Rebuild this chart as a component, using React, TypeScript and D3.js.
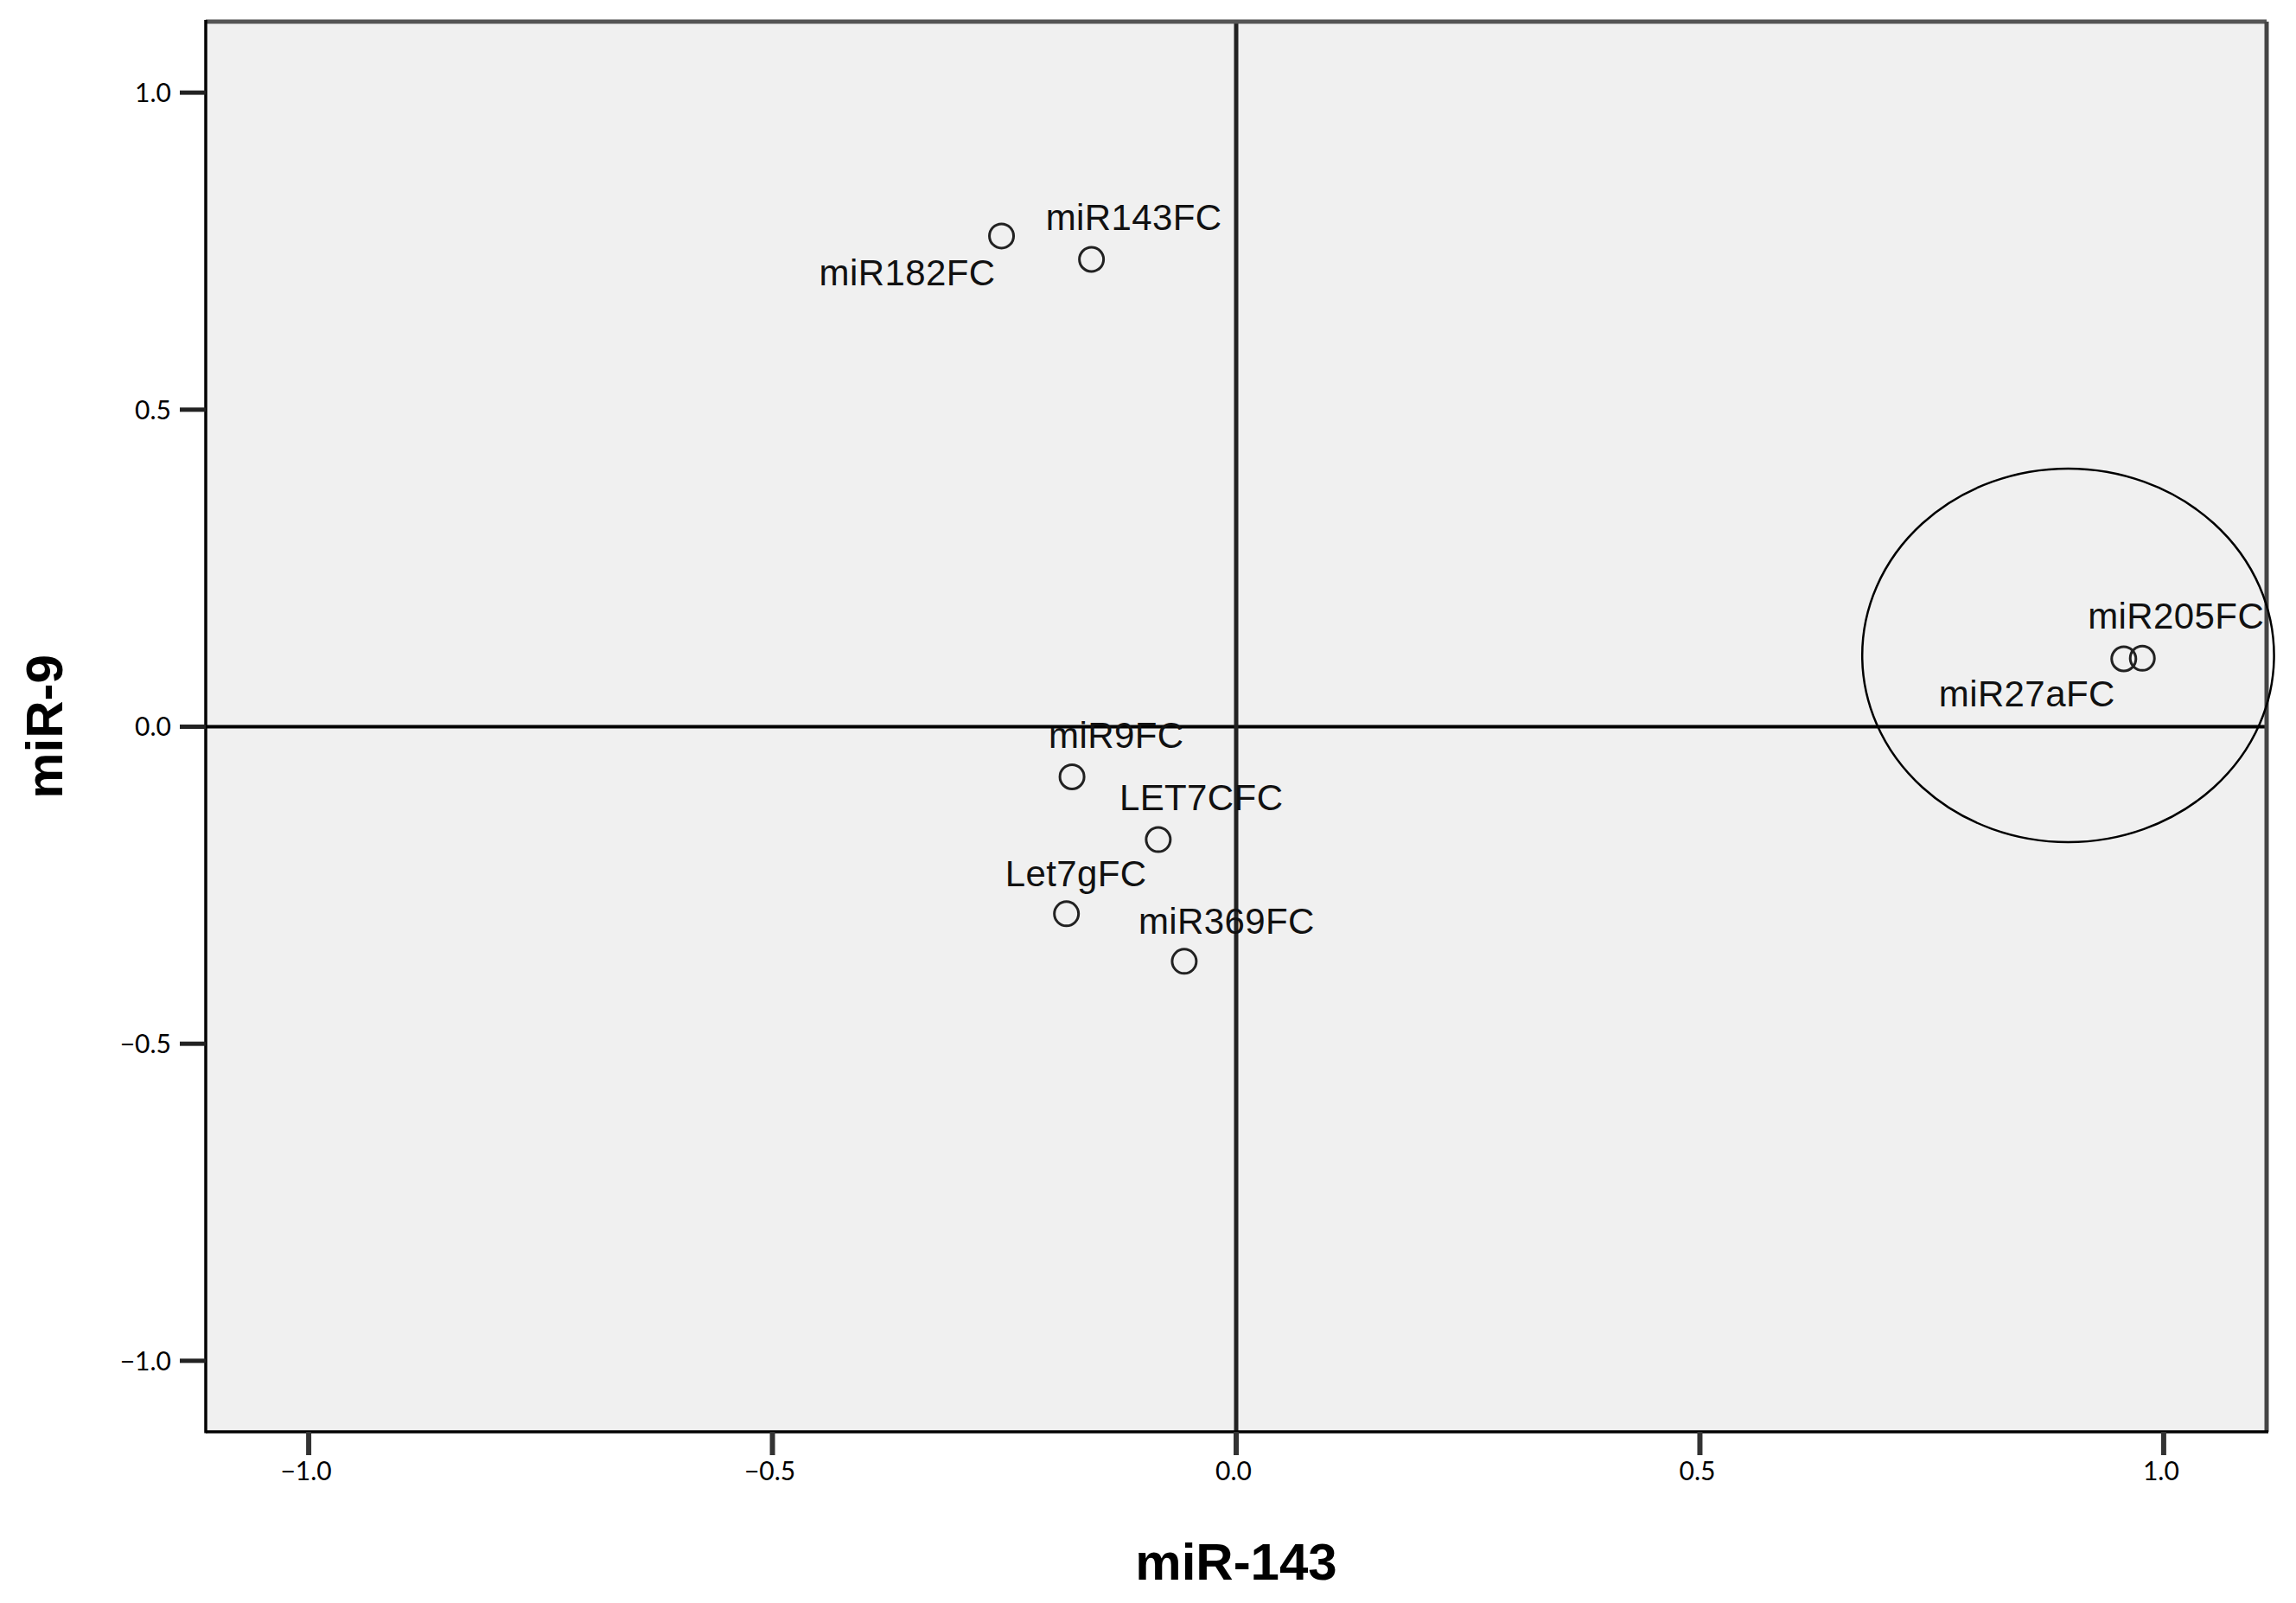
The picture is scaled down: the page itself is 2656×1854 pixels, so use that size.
import React from 'react';
import * as d3 from 'd3';

// component loadings
const genes = ['miR182FC', 'miR143FC', 'miR205FC', 'miR27aFC', 'miR9FC', 'LET7CFC', 'Let7gFC', 'miR369FC'];
const miR143 = [-0.253, -0.156, 0.977, 0.957, -0.177, -0.084, -0.183, -0.056];
const miR9 = [0.774, 0.737, 0.108, 0.107, -0.079, -0.178, -0.295, -0.37];

const xTicks = [-1, -0.5, 0, 0.5, 1];
const yTicks = [-1, -0.5, 0, 0.5, 1];

// circled group (centre and radii in data units)
const groupEllipse = { cx: 0.897, cy: 0.1125, rx: 0.222, ry: 0.2945 };

// where each label sits relative to its point (px)
const labelDx = [-211, -53, -63, -214, -27, -45, -71, -53];
const labelDy = [57, -34, -34, 55, -33, -34, -32, -32];

const W = 2656;
const H = 1854;
const left = 238, right = 2622, top = 25, bottom = 1656;

const fmt = (v: number) => (v < 0 ? '\u2212' : '') + Math.abs(v).toFixed(1);

export default function App() {
  const x = d3.scaleLinear().domain([-1.111, 1.111]).range([left, right]);
  const y = d3.scaleLinear().domain([-1.112, 1.112]).range([bottom, top]);

  const tickFont = 'Lato, "Open Sans", sans-serif';
  const labelFont = '"Liberation Sans", Arial, sans-serif';

  return (
    <svg width={W} height={H} style={{ position: 'absolute', left: 0, top: 0, display: 'block', background: '#fff' }}>
      <rect x={left} y={top} width={right - left} height={bottom - top} fill="#f0f0f0" />

      {/* zero reference lines */}
      <line x1={left} x2={right} y1={y(0)} y2={y(0)} stroke="#000" strokeWidth={4} />
      <line x1={x(0)} x2={x(0)} y1={top} y2={bottom} stroke="#222" strokeWidth={5} />

      {/* frame */}
      <line x1={left} x2={right} y1={top} y2={top} stroke="#555" strokeWidth={5} />
      <line x1={right} x2={right} y1={top} y2={bottom} stroke="#444" strokeWidth={5} />
      <line x1={left} x2={left} y1={top - 2} y2={bottom + 1.5} stroke="#000" strokeWidth={3.5} />
      <line x1={left} x2={right + 2} y1={bottom} y2={bottom} stroke="#000" strokeWidth={3.5} />

      {/* y axis */}
      {yTicks.map((t) => (
        <g key={'y' + t}>
          <line x1={left - 30} x2={left} y1={y(t)} y2={y(t)} stroke="#222" strokeWidth={5} />
          <text x={198} y={y(t)} dy="0.36em" textAnchor="end" fontFamily={tickFont} fontSize={30} fill="#000">
            {fmt(t)}
          </text>
        </g>
      ))}

      {/* x axis */}
      {xTicks.map((t) => (
        <g key={'x' + t}>
          <line x1={x(t)} x2={x(t)} y1={bottom} y2={bottom + 27} stroke="#333" strokeWidth={6} />
          <text x={x(t) - 3} y={1712} textAnchor="middle" fontFamily={tickFont} fontSize={30} fill="#000">
            {fmt(t)}
          </text>
        </g>
      ))}

      {/* points */}
      {genes.map((g, i) => (
        <g key={g}>
          <circle cx={x(miR143[i])} cy={y(miR9[i])} r={14} fill="none" stroke="#222" strokeWidth={3} />
          <text
            x={x(miR143[i]) + labelDx[i]}
            y={y(miR9[i]) + labelDy[i]}
            fontFamily={labelFont}
            fontSize={42}
            letterSpacing={0.4}
            fill="#111"
          >
            {g}
          </text>
        </g>
      ))}

      <ellipse
        cx={x(groupEllipse.cx)}
        cy={y(groupEllipse.cy)}
        rx={x(groupEllipse.rx) - x(0)}
        ry={y(0) - y(groupEllipse.ry)}
        fill="none"
        stroke="#000"
        strokeWidth={2.5}
      />

      {/* axis titles */}
      <text x={x(0)} y={1827} textAnchor="middle" fontFamily={labelFont} fontWeight="bold" fontSize={60} fill="#000">
        miR-143
      </text>
      <text
        transform={`translate(72,${y(0)}) rotate(-90)`}
        textAnchor="middle"
        fontFamily={labelFont}
        fontWeight="bold"
        fontSize={60}
        fill="#000"
      >
        miR-9
      </text>
    </svg>
  );
}
